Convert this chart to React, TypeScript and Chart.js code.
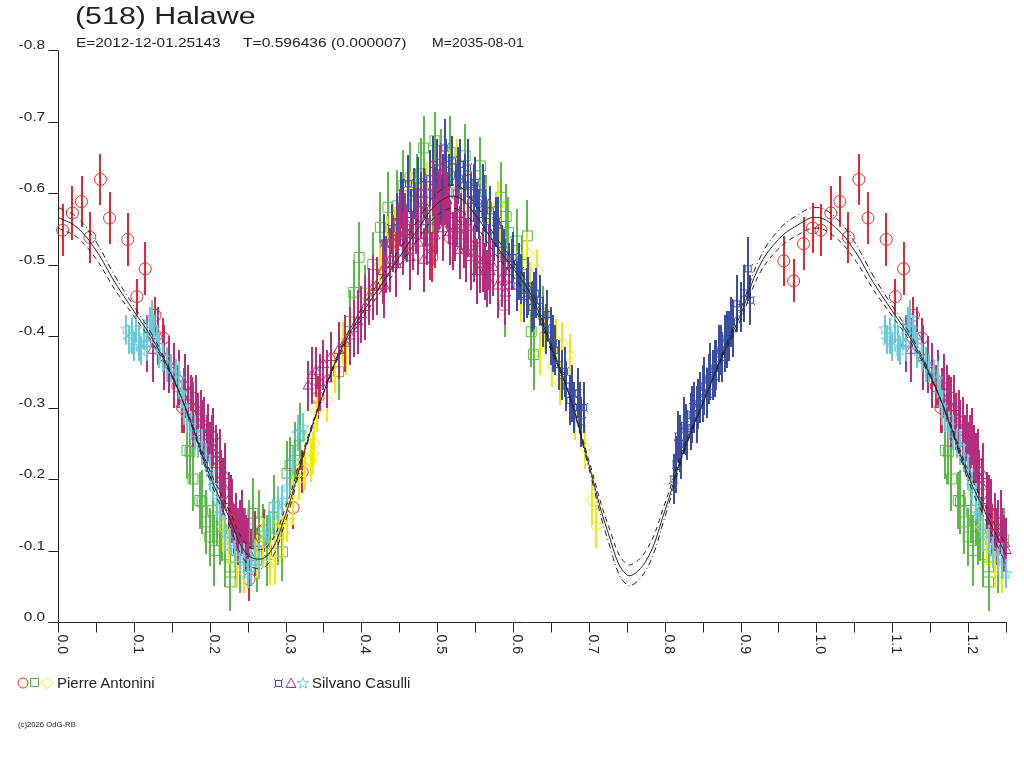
import { useEffect, useRef } from 'react';
import { Chart, registerables } from 'chart.js';

Chart.register(...registerables);

// [phase, reduced magnitude, error]
type Obs = [number, number, number];

const antoniniCircles: Obs[] = [
  [0.006, -0.548, 0.036], [0.019, -0.572, 0.038], [0.031, -0.588, 0.036], [0.042, -0.538, 0.036],
  [0.056, -0.619, 0.036], [0.068, -0.565, 0.036], [0.092, -0.535, 0.037], [0.104, -0.455, 0.025],
  [0.115, -0.494, 0.037], [0.128, -0.429, 0.025], [0.139, -0.397, 0.028], [0.158, -0.33, 0.03],
  [0.164, -0.3, 0.035], [0.177, -0.313, 0.03], [0.188, -0.265, 0.03], [0.232, -0.13, 0.035],
  [0.252, -0.06, 0.03], [0.271, -0.128, 0.03], [0.31, -0.16, 0.03], [0.322, -0.21, 0.03],
  [0.343, -0.314, 0.03], [0.43, -0.49, 0.035], [0.455, -0.52, 0.03], [0.493, -0.51, 0.035],
  [0.517, -0.538, 0.035], [0.53, -0.552, 0.03], [0.545, -0.6, 0.03], [0.957, -0.505, 0.035],
  [0.97, -0.477, 0.03], [0.983, -0.529, 0.037], [0.995, -0.551, 0.035],
];

const antoniniSquares: Obs[] = [
  [0.17, -0.24, 0.04], [0.174, -0.238, 0.045], [0.178, -0.2, 0.045], [0.187, -0.17, 0.04],
  [0.19, -0.168, 0.045], [0.195, -0.14, 0.045], [0.2, -0.119, 0.04], [0.204, -0.156, 0.045],
  [0.206, -0.1, 0.05], [0.21, -0.147, 0.04], [0.213, -0.12, 0.04], [0.216, -0.13, 0.045],
  [0.22, -0.094, 0.045], [0.227, -0.077, 0.045], [0.227, -0.056, 0.04], [0.235, -0.1, 0.04],
  [0.24, -0.09, 0.05], [0.247, -0.115, 0.045], [0.252, -0.13, 0.04], [0.257, -0.152, 0.05],
  [0.262, -0.087, 0.045], [0.265, -0.14, 0.045], [0.27, -0.12, 0.045], [0.275, -0.1, 0.05],
  [0.28, -0.11, 0.04], [0.285, -0.16, 0.045], [0.29, -0.13, 0.05], [0.296, -0.098, 0.04],
  [0.302, -0.208, 0.045], [0.306, -0.219, 0.04], [0.313, -0.24, 0.04], [0.319, -0.261, 0.045],
  [0.37, -0.35, 0.04], [0.385, -0.42, 0.045], [0.39, -0.461, 0.045], [0.397, -0.51, 0.05],
  [0.405, -0.46, 0.04], [0.415, -0.5, 0.045], [0.425, -0.552, 0.05], [0.435, -0.58, 0.05],
  [0.447, -0.582, 0.05], [0.455, -0.61, 0.05], [0.464, -0.621, 0.05], [0.473, -0.61, 0.045],
  [0.478, -0.627, 0.05], [0.482, -0.663, 0.045], [0.49, -0.6, 0.05], [0.495, -0.55, 0.05],
  [0.497, -0.673, 0.04], [0.505, -0.64, 0.05], [0.517, -0.657, 0.05], [0.525, -0.6, 0.045],
  [0.537, -0.652, 0.045], [0.544, -0.568, 0.05], [0.557, -0.638, 0.04], [0.565, -0.58, 0.045],
  [0.584, -0.594, 0.05], [0.591, -0.567, 0.045], [0.594, -0.545, 0.05], [0.605, -0.533, 0.045],
  [0.612, -0.5, 0.04], [0.619, -0.54, 0.05], [0.589, -0.443, 0.045], [0.624, -0.406, 0.05],
  [0.627, -0.374, 0.05], [0.64, -0.43, 0.04],
];

const antoniniDiamonds: Obs[] = [
  [0.185, -0.296, 0.025], [0.2, -0.22, 0.03], [0.214, -0.16, 0.03], [0.218, -0.133, 0.035],
  [0.225, -0.11, 0.03], [0.236, -0.082, 0.035], [0.245, -0.07, 0.03], [0.255, -0.095, 0.035],
  [0.262, -0.091, 0.03], [0.27, -0.11, 0.035], [0.28, -0.082, 0.03], [0.286, -0.087, 0.035],
  [0.292, -0.14, 0.03], [0.297, -0.124, 0.035], [0.302, -0.142, 0.03], [0.31, -0.17, 0.035],
  [0.318, -0.2, 0.03], [0.326, -0.215, 0.03], [0.333, -0.226, 0.03], [0.336, -0.236, 0.03],
  [0.338, -0.25, 0.03], [0.341, -0.296, 0.03], [0.355, -0.31, 0.03], [0.365, -0.35, 0.03],
  [0.376, -0.39, 0.03], [0.38, -0.376, 0.03], [0.39, -0.42, 0.03], [0.4, -0.44, 0.03],
  [0.41, -0.46, 0.03], [0.416, -0.47, 0.03], [0.425, -0.5, 0.03], [0.434, -0.533, 0.035],
  [0.445, -0.55, 0.03], [0.455, -0.575, 0.03], [0.465, -0.6, 0.03], [0.475, -0.59, 0.035],
  [0.487, -0.613, 0.03], [0.497, -0.58, 0.03], [0.504, -0.607, 0.035], [0.515, -0.63, 0.03],
  [0.526, -0.645, 0.03], [0.535, -0.6, 0.03], [0.545, -0.58, 0.03], [0.559, -0.609, 0.03],
  [0.568, -0.56, 0.03], [0.58, -0.582, 0.035], [0.583, -0.538, 0.03], [0.587, -0.524, 0.03],
  [0.6, -0.515, 0.03], [0.61, -0.45, 0.03], [0.619, -0.515, 0.03], [0.623, -0.468, 0.035],
  [0.632, -0.492, 0.03], [0.636, -0.376, 0.03], [0.642, -0.41, 0.03], [0.652, -0.359, 0.03],
  [0.656, -0.394, 0.03], [0.662, -0.334, 0.03], [0.665, -0.39, 0.03], [0.675, -0.373, 0.03],
  [0.682, -0.285, 0.03], [0.695, -0.244, 0.03], [0.704, -0.17, 0.035], [0.71, -0.134, 0.03],
];

const casulliBoxes: Obs[] = [
  [0.43, -0.53, 0.04], [0.44, -0.55, 0.035], [0.447, -0.56, 0.04], [0.452, -0.59, 0.04],
  [0.455, -0.58, 0.04], [0.457, -0.543, 0.035], [0.462, -0.613, 0.04], [0.465, -0.57, 0.035],
  [0.47, -0.6, 0.035], [0.475, -0.61, 0.04], [0.478, -0.59, 0.04], [0.482, -0.6, 0.035],
  [0.485, -0.56, 0.035], [0.49, -0.62, 0.04], [0.495, -0.64, 0.04], [0.497, -0.6, 0.035],
  [0.5, -0.635, 0.04], [0.505, -0.59, 0.035], [0.507, -0.615, 0.04], [0.51, -0.663, 0.04],
  [0.512, -0.64, 0.035], [0.515, -0.62, 0.035], [0.52, -0.645, 0.035], [0.525, -0.6, 0.04],
  [0.527, -0.625, 0.04], [0.53, -0.64, 0.035], [0.535, -0.61, 0.035], [0.537, -0.62, 0.035],
  [0.54, -0.635, 0.04], [0.545, -0.59, 0.035], [0.548, -0.6, 0.04], [0.55, -0.615, 0.035],
  [0.552, -0.58, 0.035], [0.555, -0.57, 0.035], [0.56, -0.6, 0.04], [0.562, -0.585, 0.04],
  [0.565, -0.56, 0.035], [0.57, -0.575, 0.035], [0.575, -0.54, 0.035], [0.578, -0.56, 0.035],
  [0.58, -0.555, 0.04], [0.585, -0.52, 0.035], [0.588, -0.51, 0.04], [0.59, -0.5, 0.035],
  [0.595, -0.49, 0.04], [0.598, -0.5, 0.035], [0.6, -0.51, 0.035], [0.605, -0.47, 0.035],
  [0.608, -0.49, 0.04], [0.61, -0.48, 0.035], [0.615, -0.455, 0.035], [0.618, -0.46, 0.035],
  [0.62, -0.47, 0.04], [0.625, -0.44, 0.035], [0.628, -0.45, 0.04], [0.63, -0.46, 0.035],
  [0.635, -0.45, 0.035], [0.64, -0.42, 0.035], [0.643, -0.41, 0.035], [0.645, -0.43, 0.035],
  [0.65, -0.4, 0.04], [0.653, -0.39, 0.04], [0.655, -0.38, 0.035], [0.66, -0.36, 0.035],
  [0.665, -0.345, 0.035], [0.668, -0.35, 0.035], [0.67, -0.33, 0.035], [0.675, -0.31, 0.035],
  [0.678, -0.32, 0.04], [0.68, -0.3, 0.035], [0.685, -0.32, 0.035], [0.688, -0.3, 0.035],
  [0.69, -0.28, 0.035], [0.693, -0.3, 0.035],
  [0.812, -0.2, 0.035], [0.815, -0.22, 0.04], [0.818, -0.26, 0.035], [0.82, -0.25, 0.04],
  [0.822, -0.24, 0.04], [0.826, -0.275, 0.04], [0.828, -0.27, 0.035], [0.83, -0.262, 0.035],
  [0.834, -0.28, 0.04], [0.836, -0.29, 0.04], [0.838, -0.3, 0.035], [0.842, -0.29, 0.04],
  [0.844, -0.305, 0.035], [0.847, -0.314, 0.035], [0.85, -0.32, 0.04], [0.852, -0.33, 0.04],
  [0.856, -0.32, 0.035], [0.858, -0.34, 0.035], [0.86, -0.35, 0.04], [0.864, -0.345, 0.035],
  [0.866, -0.355, 0.04], [0.868, -0.36, 0.035], [0.872, -0.375, 0.04], [0.874, -0.38, 0.035],
  [0.876, -0.37, 0.035], [0.88, -0.39, 0.04], [0.882, -0.395, 0.04], [0.885, -0.4, 0.035],
  [0.888, -0.42, 0.035], [0.89, -0.41, 0.04], [0.895, -0.445, 0.04], [0.9, -0.44, 0.035],
  [0.905, -0.46, 0.04], [0.91, -0.494, 0.045], [0.913, -0.45, 0.035],
];

const casulliTriangles: Obs[] = [
  [0.118, -0.39, 0.04], [0.125, -0.38, 0.045], [0.132, -0.4, 0.04], [0.14, -0.37, 0.045],
  [0.147, -0.36, 0.04], [0.153, -0.345, 0.045], [0.16, -0.34, 0.04], [0.166, -0.31, 0.045],
  [0.168, -0.33, 0.045], [0.172, -0.32, 0.04], [0.175, -0.305, 0.04], [0.178, -0.29, 0.045],
  [0.182, -0.3, 0.045], [0.184, -0.28, 0.04], [0.188, -0.285, 0.04], [0.19, -0.265, 0.045],
  [0.193, -0.27, 0.045], [0.196, -0.25, 0.04], [0.198, -0.265, 0.04], [0.2, -0.235, 0.045],
  [0.203, -0.245, 0.045], [0.205, -0.26, 0.04], [0.208, -0.235, 0.04], [0.21, -0.22, 0.045],
  [0.213, -0.225, 0.045], [0.215, -0.2, 0.04], [0.218, -0.19, 0.04], [0.22, -0.205, 0.045],
  [0.225, -0.17, 0.04], [0.228, -0.16, 0.045], [0.23, -0.155, 0.045], [0.235, -0.14, 0.04],
  [0.238, -0.12, 0.04], [0.24, -0.125, 0.045], [0.243, -0.14, 0.045], [0.245, -0.12, 0.04],
  [0.248, -0.11, 0.04], [0.25, -0.1, 0.045], [0.255, -0.09, 0.04], [0.26, -0.11, 0.045],
  [0.33, -0.33, 0.035], [0.335, -0.345, 0.04], [0.34, -0.35, 0.035], [0.345, -0.335, 0.04],
  [0.35, -0.36, 0.035], [0.355, -0.34, 0.04], [0.36, -0.37, 0.035], [0.37, -0.38, 0.04],
  [0.378, -0.39, 0.04], [0.385, -0.4, 0.04], [0.39, -0.41, 0.04], [0.395, -0.42, 0.045],
  [0.4, -0.43, 0.04], [0.405, -0.44, 0.045], [0.41, -0.455, 0.04], [0.416, -0.468, 0.045],
  [0.42, -0.47, 0.04], [0.428, -0.49, 0.045], [0.43, -0.47, 0.045], [0.433, -0.5, 0.04],
  [0.438, -0.506, 0.045], [0.442, -0.529, 0.04], [0.446, -0.5, 0.045], [0.448, -0.54, 0.045],
  [0.451, -0.566, 0.04], [0.455, -0.53, 0.045], [0.458, -0.56, 0.04], [0.46, -0.543, 0.04],
  [0.464, -0.51, 0.045], [0.468, -0.533, 0.04], [0.472, -0.56, 0.045], [0.475, -0.53, 0.045],
  [0.478, -0.575, 0.04], [0.482, -0.506, 0.045], [0.485, -0.58, 0.04], [0.487, -0.54, 0.04],
  [0.491, -0.524, 0.045], [0.495, -0.608, 0.04], [0.497, -0.54, 0.045], [0.5, -0.56, 0.045],
  [0.502, -0.59, 0.04], [0.504, -0.627, 0.04], [0.508, -0.55, 0.045], [0.51, -0.6, 0.045],
  [0.513, -0.589, 0.04], [0.515, -0.57, 0.04], [0.517, -0.545, 0.045], [0.521, -0.533, 0.04],
  [0.524, -0.55, 0.045], [0.526, -0.57, 0.045], [0.53, -0.52, 0.04], [0.532, -0.56, 0.04],
  [0.535, -0.54, 0.045], [0.538, -0.52, 0.045], [0.54, -0.552, 0.04], [0.544, -0.51, 0.045],
  [0.548, -0.515, 0.04], [0.55, -0.53, 0.045], [0.553, -0.49, 0.045], [0.557, -0.5, 0.04],
  [0.561, -0.506, 0.045], [0.563, -0.49, 0.04], [0.566, -0.48, 0.04], [0.568, -0.51, 0.045],
  [0.57, -0.49, 0.045], [0.574, -0.496, 0.04], [0.58, -0.47, 0.045], [0.585, -0.48, 0.04],
  [0.59, -0.46, 0.045], [0.595, -0.47, 0.04],
];

const casulliStars: Obs[] = [
  [0.09, -0.41, 0.02], [0.093, -0.395, 0.02], [0.097, -0.4, 0.025], [0.1, -0.385, 0.02],
  [0.103, -0.41, 0.02], [0.107, -0.39, 0.025], [0.11, -0.38, 0.02], [0.114, -0.4, 0.02],
  [0.118, -0.39, 0.025], [0.121, -0.42, 0.02], [0.124, -0.426, 0.025], [0.127, -0.41, 0.02],
  [0.13, -0.395, 0.02], [0.133, -0.38, 0.025], [0.139, -0.37, 0.02], [0.144, -0.36, 0.025],
  [0.149, -0.355, 0.02], [0.155, -0.348, 0.02], [0.16, -0.34, 0.025], [0.163, -0.32, 0.02],
  [0.166, -0.3, 0.025], [0.17, -0.286, 0.02], [0.175, -0.275, 0.02], [0.18, -0.265, 0.025],
  [0.185, -0.25, 0.02], [0.19, -0.245, 0.025], [0.195, -0.23, 0.02], [0.2, -0.21, 0.025],
  [0.205, -0.19, 0.02], [0.21, -0.17, 0.025], [0.214, -0.15, 0.02], [0.22, -0.125, 0.025],
  [0.227, -0.115, 0.02], [0.233, -0.1, 0.025], [0.24, -0.09, 0.02], [0.245, -0.085, 0.025],
  [0.25, -0.068, 0.02], [0.255, -0.077, 0.025], [0.26, -0.096, 0.02], [0.265, -0.085, 0.025],
  [0.271, -0.124, 0.02], [0.278, -0.13, 0.025], [0.284, -0.152, 0.02], [0.29, -0.165, 0.025],
  [0.296, -0.17, 0.02], [0.302, -0.189, 0.025], [0.31, -0.226, 0.02], [0.316, -0.264, 0.025],
  [0.323, -0.272, 0.02],
];

// Fourier fit: mean curve and the two envelope curves, phase 0..1
const fitPhase = [
  0, 0.025, 0.05, 0.075, 0.1, 0.125, 0.15, 0.175, 0.2, 0.225, 0.25, 0.275, 0.3, 0.325,
  0.35, 0.375, 0.4, 0.425, 0.45, 0.475, 0.5, 0.525, 0.55, 0.575, 0.6, 0.625, 0.65, 0.675,
  0.7, 0.725, 0.75, 0.775, 0.8, 0.825, 0.85, 0.875, 0.9, 0.925, 0.95, 0.975, 1.0,
];
const fitMean = [
  -0.566, -0.552, -0.52, -0.475, -0.435, -0.395, -0.345, -0.28, -0.205, -0.148, -0.094, -0.092,
  -0.15, -0.24, -0.32, -0.385, -0.43, -0.47, -0.51, -0.55, -0.585, -0.595, -0.57, -0.53,
  -0.495, -0.455, -0.385, -0.315, -0.22, -0.126, -0.066, -0.085, -0.155, -0.24, -0.305, -0.37,
  -0.43, -0.498, -0.535, -0.555, -0.566,
];
const fitHigh = [
  -0.58, -0.566, -0.532, -0.484, -0.442, -0.4, -0.347, -0.278, -0.199, -0.138, -0.081, -0.079,
  -0.141, -0.236, -0.32, -0.389, -0.437, -0.479, -0.521, -0.563, -0.6, -0.611, -0.585, -0.542,
  -0.505, -0.463, -0.389, -0.315, -0.215, -0.115, -0.052, -0.072, -0.146, -0.236, -0.304, -0.373,
  -0.437, -0.508, -0.548, -0.569, -0.58,
];
const fitLow = [
  -0.551, -0.538, -0.508, -0.465, -0.428, -0.39, -0.343, -0.282, -0.212, -0.158, -0.107, -0.105,
  -0.16, -0.245, -0.32, -0.381, -0.423, -0.461, -0.498, -0.536, -0.569, -0.578, -0.555, -0.517,
  -0.484, -0.447, -0.381, -0.315, -0.226, -0.137, -0.081, -0.099, -0.165, -0.245, -0.306, -0.367,
  -0.423, -0.487, -0.522, -0.541, -0.551,
];

const yTicks = [-0.8, -0.7, -0.6, -0.5, -0.4, -0.3, -0.2, -0.1, 0.0];
const yTickLabels = ['-0.8', '-0.7', '-0.6', '-0.5', '-0.4', '-0.3', '-0.2', '-0.1', '0.0'];
const xTicks = [0, 0.1, 0.2, 0.3, 0.4, 0.5, 0.6, 0.7, 0.8, 0.9, 1.0, 1.1, 1.2];
const xTickLabels = ['0.0', '0.1', '0.2', '0.3', '0.4', '0.5', '0.6', '0.7', '0.8', '0.9', '1.0', '1.1', '1.2'];
const xMinorTicks = [0.05, 0.15, 0.25, 0.35, 0.45, 0.55, 0.65, 0.75, 0.85, 0.95, 1.05, 1.15, 1.25];

const RED = '#e8262d';
const GREEN = '#5bb948';
const YELLOW = '#f2ea00';
const BLUE = '#3b4ea3';
const MAGENTA = '#b52d7d';
const CYAN = '#6dc9da';
const INK = '#222';

const BOX_PATTERN = [
  'X.......X',
  '.XXXXXXX.',
  '.X.....X.',
  '.X.....X.',
  '.X.....X.',
  '.X.....X.',
  '.X.....X.',
  '.XXXXXXX.',
  'X.......X',
];

// the plot runs to phase 1.25, so the first quarter is repeated after 1.0
const wrapObs = (obs: Obs[]) =>
  obs.concat(obs.filter((o) => o[0] <= 0.25).map((o) => [o[0] + 1, o[1], o[2]] as Obs));

const wrapFit = (vals: number[]) => {
  const pts = fitPhase.map((p, i) => ({ x: p, y: vals[i] }));
  fitPhase.forEach((p, i) => {
    if (p > 0 && p <= 0.25) pts.push({ x: p + 1, y: vals[i] });
  });
  return pts;
};

function boxImage(color: string) {
  const c = document.createElement('canvas');
  c.width = 9;
  c.height = 9;
  const g = c.getContext('2d')!;
  g.fillStyle = color;
  BOX_PATTERN.forEach((row, r) =>
    row.split('').forEach((ch, k) => {
      if (ch === 'X') g.fillRect(k, r, 1, 1);
    })
  );
  return c;
}

function starImage(color: string) {
  const c = document.createElement('canvas');
  c.width = 13;
  c.height = 13;
  const g = c.getContext('2d')!;
  g.strokeStyle = color;
  g.lineWidth = 1;
  g.beginPath();
  for (let k = 0; k < 10; k++) {
    const r = k % 2 === 0 ? 6 : 2.6;
    const a = -Math.PI / 2 + (k * Math.PI) / 5;
    const px = 6.5 + r * Math.cos(a);
    const py = 6.8 + r * Math.sin(a);
    if (k === 0) g.moveTo(px, py);
    else g.lineTo(px, py);
  }
  g.closePath();
  g.stroke();
  return c;
}

const errorBarPlugin = {
  id: 'errorBars',
  beforeDatasetDraw(chart: any, args: any) {
    const ds = chart.data.datasets[args.index];
    if (!ds.errs) return;
    const y = chart.scales.y;
    const ctx = chart.ctx;
    ctx.save();
    ctx.strokeStyle = ds.borderColor;
    ctx.lineWidth = 2;
    ctx.beginPath();
    args.meta.data.forEach((el: any, i: number) => {
      const p = ds.data[i];
      const x = Math.round(el.x);
      ctx.moveTo(x, Math.round(y.getPixelForValue(p.y - ds.errs[i])));
      ctx.lineTo(x, Math.round(y.getPixelForValue(p.y + ds.errs[i])));
    });
    ctx.stroke();
    ctx.restore();
  },
};

const axesPlugin = {
  id: 'lcAxes',
  beforeDatasetsDraw(chart: any) {
    const { ctx, scales } = chart;
    const x = scales.x;
    const y = scales.y;
    const x0 = Math.round(x.getPixelForValue(0)) + 0.5;
    const x1 = Math.round(x.getPixelForValue(1.25)) + 0.5;
    const yb = Math.round(y.getPixelForValue(0)) + 0.5;
    const yt = Math.round(y.getPixelForValue(-0.8)) + 0.5;
    ctx.save();
    ctx.strokeStyle = INK;
    ctx.lineWidth = 1;
    ctx.beginPath();
    ctx.moveTo(x0, yt);
    ctx.lineTo(x0, yb);
    ctx.moveTo(x0 - 10, yb);
    ctx.lineTo(x1, yb);
    yTicks.forEach((v) => {
      const py = Math.round(y.getPixelForValue(v)) + 0.5;
      ctx.moveTo(x0 - 10, py);
      ctx.lineTo(x0, py);
    });
    [...xTicks, ...xMinorTicks].forEach((v) => {
      const px = Math.round(x.getPixelForValue(v)) + 0.5;
      ctx.moveTo(px, yb);
      ctx.lineTo(px, yb + 10);
    });
    ctx.stroke();

    ctx.fillStyle = INK;
    ctx.font = '12px "Liberation Sans", Arial, sans-serif';
    ctx.textAlign = 'right';
    ctx.textBaseline = 'alphabetic';
    yTicks.forEach((v, i) => {
      const py = y.getPixelForValue(v);
      ctx.save();
      ctx.translate(45, py - 1);
      ctx.scale(1.28, 1);
      ctx.fillText(yTickLabels[i], 0, 0);
      ctx.restore();
    });

    ctx.font = '14px "Liberation Sans", Arial, sans-serif';
    ctx.textAlign = 'left';
    xTicks.forEach((v, i) => {
      const px = x.getPixelForValue(v);
      ctx.save();
      ctx.translate(px, yb + 12);
      ctx.rotate(Math.PI / 2);
      ctx.fillText(xTickLabels[i], 0, 0);
      ctx.restore();
    });
    ctx.restore();
  },
};

const LegendMark = ({ kind, color }: { kind: string; color: string }) => (
  <svg width={12} height={12} style={{ display: 'block' }}>
    {kind === 'circle' && <circle cx={6} cy={6} r={5} fill="none" stroke={color} />}
    {kind === 'square' && <rect x={1.5} y={1.5} width={8} height={8} fill="none" stroke={color} />}
    {kind === 'diamond' && <polygon points="6,0.5 11.5,6 6,11.5 0.5,6" fill="none" stroke={color} />}
    {kind === 'triangle' && <polygon points="6,1 11,10.5 1,10.5" fill="none" stroke={color} />}
    {kind === 'star' && (
      <polygon
        points="6,0.5 7.4,4.6 11.6,4.6 8.2,7.1 9.5,11.3 6,8.7 2.5,11.3 3.8,7.1 0.4,4.6 4.6,4.6"
        fill="none"
        stroke={color}
      />
    )}
    {kind === 'box' &&
      BOX_PATTERN.flatMap((row, r) =>
        row.split('').map((ch, k) =>
          ch === 'X' ? <rect key={`${r}-${k}`} x={1 + k} y={2 + r} width={1} height={1} fill={color} /> : null
        )
      )}
  </svg>
);

const textBase = {
  position: 'absolute' as const,
  fontFamily: '"Liberation Sans", Arial, sans-serif',
  color: INK,
  whiteSpace: 'pre' as const,
  transformOrigin: 'left center',
};

export default function App() {
  const canvasRef = useRef<HTMLCanvasElement | null>(null);

  useEffect(() => {
    if (!canvasRef.current) return;

    const series = [
      { obs: antoniniSquares, color: GREEN, style: 'rect', radius: 7 },
      { obs: antoniniCircles, color: RED, style: 'circle', radius: 6 },
      { obs: antoniniDiamonds, color: YELLOW, style: 'rectRot', radius: 6 },
      { obs: casulliBoxes, color: BLUE, style: boxImage(BLUE), radius: 5 },
      { obs: casulliTriangles, color: MAGENTA, style: 'triangle', radius: 6 },
      { obs: casulliStars, color: CYAN, style: starImage(CYAN), radius: 6 },
    ];

    const pointSets = series.map((s, i) => {
      const all = wrapObs(s.obs);
      return {
        type: 'scatter' as const,
        data: all.map((o) => ({ x: o[0], y: o[1] })),
        errs: all.map((o) => o[2]),
        pointStyle: s.style,
        pointRadius: s.radius,
        borderColor: s.color,
        backgroundColor: 'rgba(0,0,0,0)',
        borderWidth: 1,
        clip: false,
        order: 10 - i,
      };
    });

    const fitSets = [
      { vals: fitMean, dash: [] as number[] },
      { vals: fitHigh, dash: [6, 3, 1, 3] },
      { vals: fitLow, dash: [5, 4] },
    ].map((f) => ({
      type: 'line' as const,
      data: wrapFit(f.vals),
      borderColor: INK,
      borderWidth: 1,
      borderDash: f.dash,
      pointRadius: 0,
      tension: 0.4,
      fill: false,
      order: 0,
    }));

    const chart = new Chart(canvasRef.current, {
      type: 'scatter',
      data: { datasets: [...fitSets, ...pointSets] as any },
      options: {
        animation: false,
        responsive: false,
        events: [],
        layout: { padding: { left: 58, top: 50, right: 18, bottom: 146 } },
        scales: {
          x: { type: 'linear', min: 0, max: 1.25, display: false },
          y: { type: 'linear', min: -0.8, max: 0, reverse: true, display: false },
        },
        plugins: {
          legend: { display: false },
          tooltip: { enabled: false },
        },
      },
      plugins: [axesPlugin, errorBarPlugin],
    });

    return () => chart.destroy();
  }, []);

  return (
    <div style={{ position: 'absolute', left: 0, top: 0, width: 1024, height: 768, background: '#fff' }}>
      <canvas ref={canvasRef} width={1024} height={768} style={{ width: 1024, height: 768, display: 'block' }} />
      <div style={{ ...textBase, left: 75, top: 5, fontSize: 23, lineHeight: '23px', transform: 'scaleX(1.32)' }}>
        (518) Halawe
      </div>
      <div style={{ ...textBase, left: 76, top: 36, fontSize: 13, lineHeight: '13px', transform: 'scaleX(1.18)' }}>
        E=2012-12-01.25143
      </div>
      <div style={{ ...textBase, left: 243, top: 36, fontSize: 13, lineHeight: '13px', transform: 'scaleX(1.2)' }}>
        T=0.596436 (0.000007)
      </div>
      <div style={{ ...textBase, left: 432, top: 36, fontSize: 13, lineHeight: '13px', transform: 'scaleX(1.08)' }}>
        M=2035-08-01
      </div>

      <div style={{ position: 'absolute', left: 17, top: 677, display: 'flex', gap: 0 }}>
        <LegendMark kind="circle" color={RED} />
        <LegendMark kind="square" color={GREEN} />
        <LegendMark kind="diamond" color={YELLOW} />
      </div>
      <div style={{ ...textBase, left: 57, top: 675, fontSize: 15, lineHeight: '15px' }}>Pierre Antonini</div>

      <div style={{ position: 'absolute', left: 273, top: 677, display: 'flex', gap: 0 }}>
        <LegendMark kind="box" color={BLUE} />
        <LegendMark kind="triangle" color={MAGENTA} />
        <LegendMark kind="star" color={CYAN} />
      </div>
      <div style={{ ...textBase, left: 312, top: 675, fontSize: 15, lineHeight: '15px' }}>Silvano Casulli</div>

      <div style={{ ...textBase, left: 18, top: 721, fontSize: 7, lineHeight: '7px', transform: 'scaleX(1.1)' }}>
        (c)2026 OdG-RB
      </div>
    </div>
  );
}
